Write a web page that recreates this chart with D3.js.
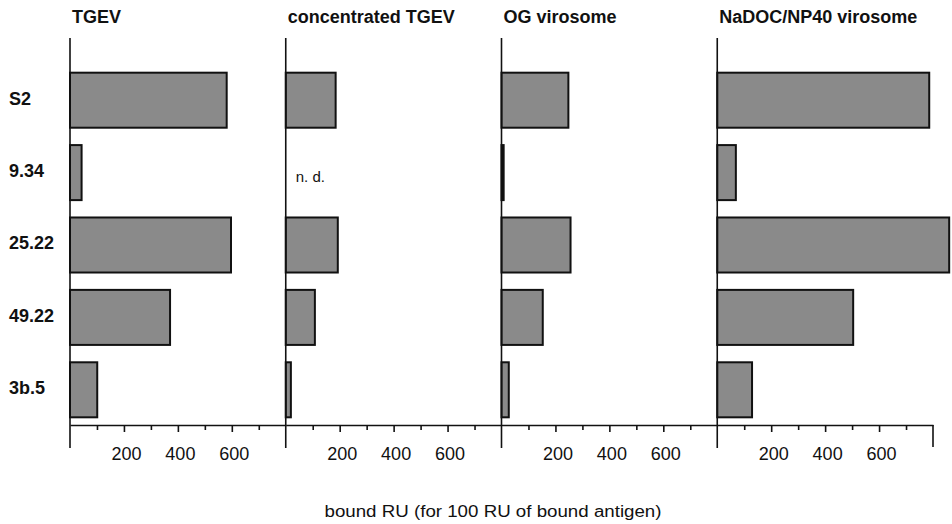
<!DOCTYPE html>
<html>
<head>
<meta charset="utf-8">
<script src="https://cdn.jsdelivr.net/npm/d3@7"></script>
<style>
  body { margin: 0; background: #fff; }
  svg { display: block; font-family: "Liberation Sans", Arial, sans-serif; }
</style>
</head>
<body>
<div id="chart"></div>
<script>
// antibodies (rows) and preparations (panels)
var antibodies = ["S2", "9.34", "25.22", "49.22", "3b.5"];
var panels = ["TGEV", "concentrated TGEV", "OG virosome", "NaDOC/NP40 virosome"];

// bound RU per antibody, one array per panel (null = not determined)
var tgev = [581, 43, 597, 371, 101];
var concTgev = [185, null, 193, 108, 19];
var ogVirosome = [248, 8, 256, 153, 27];
var nadocVirosome = [786, 69, 860, 504, 129];

var tickValues = [100, 200, 300, 400, 500, 600, 700];
var labelledTicks = [200, 400, 600];
var axisTitle = "bound RU (for 100 RU of bound antigen)";

var series = [tgev, concTgev, ogVirosome, nadocVirosome];

var width = 952, height = 524;
var left = 70, right = 933, axisY = 425, topY = 38;

var svg = d3.select("#chart").append("svg")
    .attr("width", width)
    .attr("height", height);

var panelScale = d3.scaleBand()
    .domain(panels)
    .range([left, right])
    .padding(0);

var y = d3.scaleBand()
    .domain(antibodies)
    .range([64, 426])
    .paddingInner(0.24)
    .paddingOuter(0.12);

// row labels
svg.selectAll(".rowlabel")
    .data(antibodies)
    .enter().append("text")
    .attr("class", "rowlabel")
    .attr("x", 9)
    .attr("y", function(d) { return y(d) + y.bandwidth() / 2 - 2; })
    .attr("dy", "0.35em")
    .style("font-size", "18px")
    .style("font-weight", "bold")
    .style("fill", "#111")
    .text(function(d) { return d; });

panels.forEach(function(p, i) {
    var x0 = panelScale(p);
    var x = d3.scaleLinear()
        .domain([0, 800])
        .range([x0, x0 + panelScale.bandwidth()]);

    var g = svg.append("g");

    // title
    g.append("text")
        .attr("x", x0 + 2)
        .attr("y", 23)
        .style("font-size", "18px")
        .style("font-weight", "bold")
        .style("fill", "#111")
        .text(p);

    // bars
    var rows = antibodies.map(function(a, j) {
        return { name: a, value: series[i][j] };
    });

    g.selectAll("rect")
        .data(rows.filter(function(d) { return d.value !== null; }))
        .enter().append("rect")
        .attr("x", x(0))
        .attr("y", function(d) { return y(d.name); })
        .attr("width", function(d) { return x(d.value) - x(0); })
        .attr("height", y.bandwidth())
        .style("fill", function(d) { return d.value < 15 ? "#111" : "#8a8a8a"; })
        .style("stroke", "#111")
        .style("stroke-width", 2);

    // not determined
    rows.filter(function(d) { return d.value === null; }).forEach(function(d) {
        g.append("text")
            .attr("x", x0 + 10)
            .attr("y", y(d.name) + y.bandwidth() / 2 + 9)
            .style("font-size", "15px")
            .style("fill", "#111")
            .text("n. d.");
    });

    // x axis
    var axis = d3.axisBottom(x)
        .tickValues(tickValues)
        .tickSize(5)
        .tickSizeOuter(0)
        .tickFormat(function(d) { return labelledTicks.indexOf(d) >= 0 ? d : ""; });

    var ax = g.append("g")
        .attr("transform", "translate(0," + axisY + ")")
        .call(axis);

    ax.select(".domain").style("stroke", "#111").style("stroke-width", 1.6);
    ax.selectAll(".tick line")
        .style("stroke", "#111")
        .style("stroke-width", 1.6)
        .attr("y2", function(d) { return labelledTicks.indexOf(d) >= 0 ? 7 : 5; });
    ax.selectAll(".tick text")
        .attr("y", 22)
        .attr("dx", 2)
        .style("font-size", "18px")
        .style("font-family", "\"Liberation Sans\", Arial, sans-serif")
        .style("fill", "#111");

    // vertical axis of the panel
    g.append("line")
        .attr("x1", x(0)).attr("x2", x(0))
        .attr("y1", topY).attr("y2", 448)
        .style("stroke", "#111")
        .style("stroke-width", 1.6);

    if (i === panels.length - 1) {
        g.append("line")
            .attr("x1", x(800)).attr("x2", x(800))
            .attr("y1", axisY).attr("y2", 447)
            .style("stroke", "#111")
            .style("stroke-width", 1.6);
    }
});

svg.append("text")
    .attr("x", 493)
    .attr("y", 517)
    .attr("text-anchor", "middle")
    .attr("textLength", 337)
    .attr("lengthAdjust", "spacingAndGlyphs")
    .style("font-size", "16px")
    .style("fill", "#111")
    .text(axisTitle);
</script>
</body>
</html>
